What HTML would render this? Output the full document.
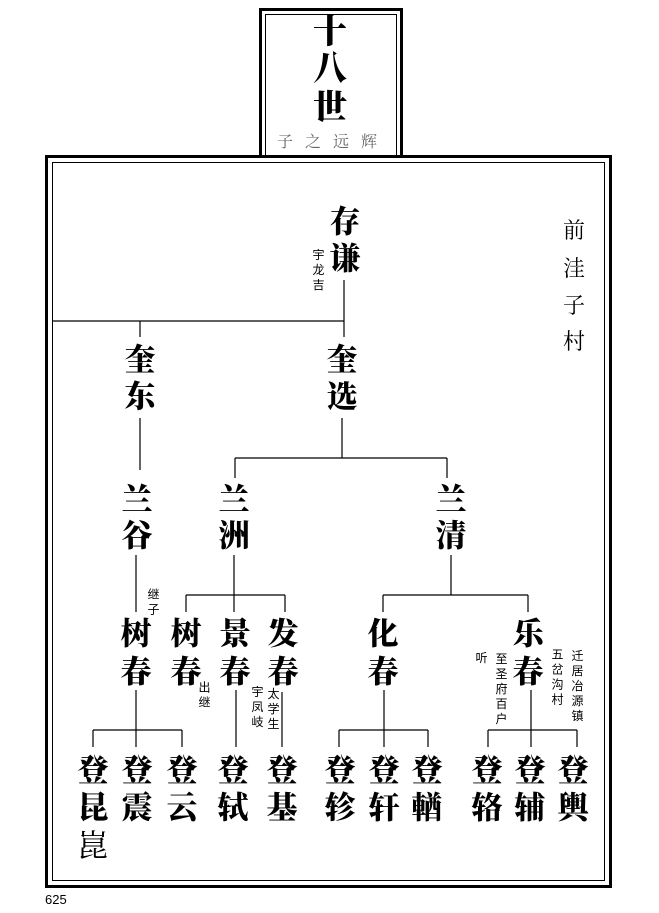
<!DOCTYPE html>
<html><head><meta charset="utf-8"><style>
body{margin:0;background:#fff;}
#p{position:relative;width:659px;height:913px;overflow:hidden;background:#fff;}
.c{position:absolute;transform:translate(-50%,-50%);font-family:"Liberation Serif","Noto Serif CJK SC",serif;color:#000;line-height:1;white-space:nowrap;}
.b{font-size:31px;font-weight:900;}
.s{font-size:12px;font-family:"Liberation Sans","Noto Sans CJK SC",sans-serif;}
.v{writing-mode:vertical-rl;letter-spacing:3px;}
</style></head><body><div id="p">
<svg width="659" height="913" style="position:absolute;left:0;top:0" fill="none" stroke="#000">
<rect x="260.5" y="9.5" width="141" height="150" stroke-width="3"/>
<rect x="265.5" y="14.5" width="131" height="145" stroke-width="1"/>
<rect x="46.5" y="156.5" width="564" height="730" stroke-width="3" fill="#fff"/>
<rect x="52.5" y="162.5" width="552" height="718" stroke-width="1"/>
<g stroke-width="1.2">
<path d="M344 280V321M52 321H344M140 321V337M344 321V337"/>
<path d="M140 418V470M342 418V458M235 458H447M235 458V478M447 458V478"/>
<path d="M136 555V612M234 555V595M186 595H285M186 595V612M285 595V612M234 595V612"/>
<path d="M451 555V595M383 595H528M383 595V612M528 595V612"/>
<path d="M136 690V747M93 730H182M93 730V747M182 730V747"/>
<path d="M236 690V747M282 692V747"/>
<path d="M384 690V747M339 730H428M339 730V747M428 730V747"/>
<path d="M531 690V747M488 730H577M488 730V747M577 730V747"/>
</g>
</svg>
<div class="c b" style="left:330px;top:33px;font-size:34px">十</div>
<div class="c b" style="left:330px;top:70px;font-size:34px">八</div>
<div class="c b" style="left:330px;top:109px;font-size:34px">世</div>
<div class="c" style="left:333px;top:143px;font-size:16px;color:#666;letter-spacing:12px">子之远辉</div>

<div class="c" style="left:574px;top:231px;font-size:22px">前</div>
<div class="c" style="left:574px;top:269px;font-size:22px">洼</div>
<div class="c" style="left:574px;top:306px;font-size:22px">子</div>
<div class="c" style="left:574px;top:342px;font-size:22px">村</div>

<div class="c b" style="left:345px;top:222px">存</div>
<div class="c b" style="left:345px;top:259px">谦</div>
<div class="c s v" style="left:318px;top:271px">宇龙吉</div>

<div class="c b" style="left:140px;top:360px">奎</div>
<div class="c b" style="left:140px;top:397px">东</div>
<div class="c b" style="left:342px;top:360px">奎</div>
<div class="c b" style="left:342px;top:397px">选</div>

<div class="c b" style="left:137px;top:500px">兰</div>
<div class="c b" style="left:137px;top:536px">谷</div>
<div class="c b" style="left:234px;top:500px">兰</div>
<div class="c b" style="left:234px;top:536px">洲</div>
<div class="c b" style="left:451px;top:500px">兰</div>
<div class="c b" style="left:451px;top:536px">清</div>

<div class="c b" style="left:136px;top:634px">树</div><div class="c b" style="left:136px;top:672px">春</div>
<div class="c b" style="left:186px;top:634px">树</div><div class="c b" style="left:186px;top:672px">春</div>
<div class="c b" style="left:235px;top:634px">景</div><div class="c b" style="left:235px;top:672px">春</div>
<div class="c b" style="left:283px;top:634px">发</div><div class="c b" style="left:283px;top:672px">春</div>
<div class="c b" style="left:383px;top:634px">化</div><div class="c b" style="left:383px;top:672px">春</div>
<div class="c b" style="left:528px;top:634px">乐</div><div class="c b" style="left:528px;top:672px">春</div>

<div class="c s v" style="left:153px;top:603px">继子</div>
<div class="c s v" style="left:204px;top:696px">出继</div>
<div class="c s v" style="left:257px;top:708px">宇凤岐</div>
<div class="c s v" style="left:273px;top:710px">太学生</div>
<div class="c s v" style="left:481px;top:659px">听</div>
<div class="c s v" style="left:501px;top:690px">至圣府百户</div>
<div class="c s v" style="left:557px;top:678px">五岔沟村</div>
<div class="c s v" style="left:577px;top:687px">迁居冶源镇</div>

<div class="c b" style="left:93px;top:771px">登</div><div class="c b" style="left:93px;top:808px">昆</div>
<div class="c" style="left:93px;top:846px;font-size:31px">崑</div>
<div class="c b" style="left:137px;top:771px">登</div><div class="c b" style="left:137px;top:808px">震</div>
<div class="c b" style="left:182px;top:771px">登</div><div class="c b" style="left:182px;top:808px">云</div>
<div class="c b" style="left:233px;top:771px">登</div><div class="c b" style="left:233px;top:808px">轼</div>
<div class="c b" style="left:282px;top:771px">登</div><div class="c b" style="left:282px;top:808px">基</div>
<div class="c b" style="left:340px;top:771px">登</div><div class="c b" style="left:340px;top:808px">轸</div>
<div class="c b" style="left:384px;top:771px">登</div><div class="c b" style="left:384px;top:808px">轩</div>
<div class="c b" style="left:427px;top:771px">登</div><div class="c b" style="left:427px;top:808px">輶</div>
<div class="c b" style="left:487px;top:771px">登</div><div class="c b" style="left:487px;top:808px">辂</div>
<div class="c b" style="left:530px;top:771px">登</div><div class="c b" style="left:530px;top:808px">辅</div>
<div class="c b" style="left:573px;top:771px">登</div><div class="c b" style="left:573px;top:808px">輿</div>

<div style="position:absolute;left:45px;top:892px;font-family:'Liberation Sans',sans-serif;font-size:13px">625</div>
</div></body></html>
